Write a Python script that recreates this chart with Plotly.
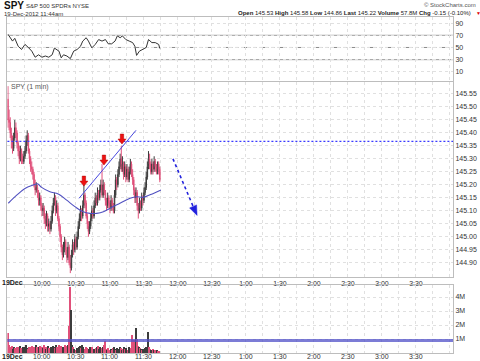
import plotly.graph_objects as go

# ---------------- data (minutes after 9:30, 19-Dec-2012) ----------------
opens = [145.53,145.45,145.44,145.40,145.37,145.34,145.38,145.42,145.40,145.36,
         145.33,145.30,145.33,145.30,145.29,145.31,145.33,145.37,145.39,145.33,
         145.30,145.27,145.26,145.24,145.20,145.18,145.19,145.17,145.14,145.15,
         145.12,145.10,145.11,145.07,145.05,145.08,145.04,145.05,145.03,145.06,
         145.10,145.13,145.15,145.10,145.12,145.07,145.04,145.00,144.96,144.93,
         144.96,144.98,144.95,144.92,144.96,144.90,144.88,144.93,144.97,144.95,
         144.99,144.96,145.00,145.04,145.07,145.10,145.08,145.12,145.16,145.13,
         145.08,145.05,145.02,145.04,145.07,145.10,145.08,145.12,145.15,145.13,
         145.17,145.15,145.18,145.20,145.16,145.20,145.17,145.14,145.12,145.15,
         145.13,145.11,145.14,145.12,145.10,145.16,145.22,145.20,145.24,145.27,
         145.30,145.26,145.28,145.24,145.27,145.23,145.26,145.22,145.25,145.28,
         145.24,145.22,145.18,145.15,145.17,145.12,145.10,145.13,145.11,145.15,
         145.14,145.17,145.19,145.23,145.27,145.30,145.28,145.25,145.28,145.26,
         145.29,145.27,145.25,145.28,145.26]
closes = [145.45,145.44,145.40,145.37,145.34,145.38,145.42,145.40,145.36,145.33,
          145.30,145.33,145.30,145.29,145.31,145.33,145.37,145.39,145.33,145.30,
          145.27,145.26,145.24,145.20,145.18,145.19,145.17,145.14,145.15,145.12,
          145.10,145.11,145.07,145.05,145.08,145.04,145.05,145.03,145.06,145.10,
          145.13,145.15,145.10,145.12,145.07,145.04,145.00,144.96,144.93,144.96,
          144.98,144.95,144.92,144.96,144.90,144.88,144.93,144.97,144.95,144.99,
          144.96,145.00,145.04,145.07,145.10,145.08,145.12,145.16,145.13,145.08,
          145.05,145.02,145.04,145.07,145.10,145.08,145.12,145.15,145.13,145.17,
          145.15,145.18,145.20,145.16,145.20,145.17,145.14,145.12,145.15,145.13,
          145.11,145.14,145.12,145.10,145.16,145.22,145.20,145.24,145.27,145.30,
          145.26,145.28,145.24,145.27,145.23,145.26,145.22,145.25,145.28,145.24,
          145.22,145.18,145.15,145.17,145.12,145.10,145.13,145.11,145.15,145.14,
          145.17,145.19,145.23,145.27,145.30,145.28,145.25,145.28,145.26,145.29,
          145.27,145.25,145.28,145.26,145.22]
highs = [145.58,145.49,145.46,145.42,145.39,145.40,145.45,145.44,145.41,145.37,
         145.35,145.35,145.34,145.32,145.33,145.35,145.39,145.41,145.40,145.34,
         145.31,145.29,145.27,145.25,145.22,145.21,145.20,145.18,145.17,145.16,
         145.13,145.13,145.12,145.09,145.10,145.09,145.07,145.06,145.08,145.12,
         145.15,145.17,145.16,145.14,145.13,145.08,145.05,145.01,144.97,144.98,
         145.00,144.99,144.96,144.98,144.97,144.93,144.95,144.99,144.98,145.01,
         145.00,145.02,145.06,145.09,145.12,145.11,145.14,145.20,145.17,145.14,
         145.09,145.06,145.06,145.09,145.12,145.11,145.14,145.17,145.16,145.19,
         145.18,145.20,145.22,145.28,145.22,145.21,145.18,145.15,145.17,145.16,
         145.14,145.16,145.15,145.13,145.18,145.24,145.23,145.26,145.29,145.32,
         145.35,145.31,145.29,145.29,145.28,145.28,145.27,145.27,145.30,145.29,
         145.26,145.23,145.19,145.19,145.18,145.13,145.15,145.14,145.17,145.16,
         145.19,145.21,145.25,145.29,145.33,145.32,145.29,145.30,145.29,145.31,
         145.30,145.28,145.29,145.29,145.27]
lows = [145.42,145.41,145.38,145.34,145.32,145.33,145.37,145.38,145.34,145.31,
        145.28,145.29,145.28,145.28,145.28,145.30,145.32,145.35,145.32,145.28,
        145.25,145.24,145.22,145.19,145.16,145.17,145.15,145.12,145.12,145.10,
        145.08,145.08,145.05,145.03,145.04,145.02,145.02,145.01,145.02,145.05,
        145.09,145.12,145.08,145.09,145.06,145.02,144.98,144.94,144.91,144.92,
        144.94,144.93,144.90,144.91,144.89,144.86,144.87,144.92,144.93,144.94,
        144.95,144.95,144.99,145.03,145.06,145.06,145.07,145.11,145.11,145.07,
        145.03,145.00,145.01,145.03,145.06,145.07,145.07,145.11,145.12,145.12,
        145.14,145.14,145.17,145.15,145.15,145.16,145.12,145.10,145.11,145.11,
        145.09,145.10,145.10,145.09,145.09,145.15,145.18,145.19,145.23,145.26,
        145.25,145.25,145.22,145.23,145.21,145.22,145.21,145.21,145.24,145.23,
        145.20,145.16,145.13,145.13,145.10,145.07,145.09,145.10,145.10,145.12,
        145.13,145.16,145.18,145.22,145.26,145.26,145.24,145.24,145.24,145.25,
        145.25,145.24,145.24,145.24,145.21]
volumes_m = [1.45,0.55,0.45,0.35,0.50,0.30,0.40,0.35,0.45,0.30,
             0.40,0.50,0.35,0.30,0.45,0.40,0.55,0.35,0.30,0.40,
             0.45,0.30,0.50,0.40,0.35,0.60,0.45,0.30,0.40,0.50,
             0.45,0.35,0.55,0.40,0.30,0.45,0.50,0.35,0.40,0.30,
             0.50,0.45,0.35,0.55,0.40,0.60,0.45,0.50,0.35,0.45,
             0.40,0.55,0.50,0.60,1.90,4.70,3.10,0.60,0.40,0.30,
             0.25,0.35,0.30,0.45,0.50,0.35,0.55,0.40,0.30,0.45,
             0.35,0.25,0.30,0.40,0.35,0.45,0.30,0.25,0.35,0.40,
             0.50,0.30,0.45,0.35,0.40,0.55,0.85,0.30,0.25,0.35,
             0.20,0.30,0.25,0.35,0.40,0.30,0.25,0.35,0.30,0.40,
             0.35,0.25,0.30,0.45,0.30,0.35,0.25,0.40,0.30,0.35,
             1.30,0.60,0.90,1.80,1.00,0.50,0.40,0.35,0.30,0.25,
             0.30,0.35,0.40,0.30,1.50,0.40,0.30,0.25,0.30,0.20,
             0.20,0.15,0.20,0.15,0.12]
ma_minutes = [0.3,7.7,15,22.3,26,29.7,37,44.4,51.8,59.1,66.4,72.4,78.3,84.2,90,98.8,107.7,113.6,119.4,128.3,135]
ma_values = [145.129,145.160,145.186,145.199,145.204,145.190,145.173,145.165,145.141,145.116,
             145.096,145.090,145.090,145.096,145.110,145.129,145.148,145.154,145.152,145.167,145.180]
rsi_minutes = [0,4,6,9,12,15,18,21,24,27,30,33,36,39,41,43,45,47,49,52,55,58,61,64,66,69,71,74,77,
               80,83,86,88.5,91.5,94.5,96.5,99,101,104,107,110,112,113.5,116,119,122,124,127,130,133,134]
rsi_values = [71.7,60.5,65,52,46.7,55,50,44,34,38,34,36,34,38,49,46.7,44,33,38,36,31.7,44,46.7,52,60.5,
              66,60.5,49.4,55,63,60.5,63,56,56,60.5,69,66,69,63,60.5,58,52,37,44,47,50,63,58,58,55,48.3]
resistance_level = 145.367
trend_start = (62.7, 145.148)
trend_end = (113.0, 145.41)
arrow_minutes = [67.0, 84.7, 100.6]
arrow_prices = [145.195, 145.276, 145.357]
forecast_start = (145.6, 145.30)
forecast_end = (166.0, 145.09)
avg_volume_m = 0.9

tick_minutes = list(range(0, 391, 15))
label_map = {30: "10:00", 60: "10:30", 90: "11:00", 120: "11:30", 150: "12:00",
             180: "12:30", 210: "1:00", 240: "1:30", 270: "2:00", 300: "2:30", 330: "3:00", 360: "3:30"}
date_label = "19Dec"
price_ticks = [round(144.90 + 0.05 * i, 2) for i in range(14)]
rsi_ticks = [10, 30, 50, 70, 90]
vol_ticks = [1, 2, 3, 4]

# ---------------- figure ----------------
minutes = list(range(len(closes)))
W, H = 480, 361
UP = "#3c3c3c"
DOWN = "#e0507a"
FONT = "Liberation Sans, Arial, sans-serif"

fig = go.Figure()

fig.add_trace(go.Scatter(x=rsi_minutes, y=rsi_values, mode="lines",
                         line=dict(color="#333333", width=1), xaxis="x", yaxis="y",
                         showlegend=False, hoverinfo="skip"))

fig.add_trace(go.Candlestick(x=minutes, open=opens, high=highs, low=lows, close=closes,
                             increasing=dict(line=dict(color=UP, width=1), fillcolor="#7a7a7a"),
                             decreasing=dict(line=dict(color=DOWN, width=1), fillcolor=DOWN),
                             whiskerwidth=0, xaxis="x2", yaxis="y2", showlegend=False,
                             hoverinfo="skip"))

fig.add_trace(go.Scatter(x=ma_minutes, y=ma_values, mode="lines", line=dict(color="#5050c0", width=1.1),
                         xaxis="x2", yaxis="y2", showlegend=False, hoverinfo="skip", line_shape="spline"))

vol_colors = [UP if c >= o else DOWN for o, c in zip(opens, closes)]
fig.add_trace(go.Bar(x=minutes, y=volumes_m, marker=dict(color=vol_colors, line=dict(width=0)),
                     width=1.0, xaxis="x3", yaxis="y3", showlegend=False, hoverinfo="skip"))

def px_x(p):
    return p / W

def px_y(p):
    return 1 - p / H

x_dom = [px_x(7.4), px_x(453)]
grid = dict(showgrid=True, gridcolor="#e0e0e0", griddash="dot", gridwidth=1)
frame = dict(showline=True, linecolor="#bdbdbd", linewidth=1, mirror=True, zeroline=False)
tickfont = dict(family=FONT, size=7, color="#333333")

def xaxis(domain_anchor, show_labels):
    d = dict(domain=x_dom, range=[-0.5, 392.7], anchor=domain_anchor, tickmode="array",
             tickvals=tick_minutes, ticktext=[label_map.get(t, "") for t in tick_minutes],
             showticklabels=show_labels, ticks="", tickfont=tickfont, automargin=False,
             **grid, **frame)
    return d

fig.update_layout(
    width=W, height=H, margin=dict(l=0, r=0, t=0, b=0, autoexpand=False),
    paper_bgcolor="white", plot_bgcolor="white", bargap=0,
    xaxis=xaxis("y", False),
    xaxis2=dict(xaxis("y2", True), rangeslider=dict(visible=False)),
    xaxis3=xaxis("y3", False),
    yaxis=dict(domain=[px_y(81), px_y(17)], range=[-5, 100], side="right", tickmode="array",
               tickvals=rsi_ticks, ticktext=[str(v) for v in rsi_ticks], ticks="",
               tickfont=tickfont, anchor="x", **grid, **frame),
    yaxis2=dict(domain=[px_y(277), px_y(82)], range=[144.845, 145.596], side="right", tickmode="array",
                tickvals=price_ticks, ticktext=["%.2f" % v for v in price_ticks], ticks="",
                tickfont=tickfont, anchor="x2", **grid, **frame),
    yaxis3=dict(domain=[px_y(353), px_y(285)], range=[0, 4.86], side="right", tickmode="array",
                tickvals=vol_ticks, ticktext=["%dM" % v for v in vol_ticks], ticks="",
                tickfont=tickfont, anchor="x3", **grid, **frame),
)

shapes = []
# RSI reference lines
for lvl, dash, col in [(70, "solid", "#9a9a9a"), (30, "solid", "#9a9a9a"), (50, "dashdot", "#8a8a8a")]:
    shapes.append(dict(type="line", xref="x domain", yref="y", x0=0, x1=1, y0=lvl, y1=lvl,
                       line=dict(color=col, width=1, dash=dash), layer="below"))
# resistance dotted line
shapes.append(dict(type="line", xref="x2 domain", yref="y2", x0=0, x1=1, y0=resistance_level,
                   y1=resistance_level, line=dict(color="#3a3aff", width=1.2, dash="2px,2px")))
# trend line
shapes.append(dict(type="line", xref="x2", yref="y2", x0=trend_start[0], y0=trend_start[1],
                   x1=trend_end[0], y1=trend_end[1], line=dict(color="#4848e0", width=1)))
# red arrows
for m, p in zip(arrow_minutes, arrow_prices):
    shapes.append(dict(type="path", xref="x2", yref="y2", xsizemode="pixel", ysizemode="pixel",
                       xanchor=m, yanchor=p,
                       path="M 0 0 L -4 5 L -1.7 5 L -1.7 10 L 1.7 10 L 1.7 5 L 4 5 Z",
                       fillcolor="#ee1111", line=dict(color="#b00000", width=0.5)))
# forecast dotted arrow
shapes.append(dict(type="line", xref="x2", yref="y2", x0=forecast_start[0], y0=forecast_start[1],
                   x1=forecast_end[0], y1=forecast_end[1], line=dict(color="#2222dd", width=1.6, dash="dot")))
shapes.append(dict(type="path", xref="x2", yref="y2", xsizemode="pixel", ysizemode="pixel",
                   xanchor=forecast_end[0], yanchor=forecast_end[1],
                   path="M 1 -2 L 0.5 8.5 L -6.5 5.5 Z", fillcolor="#2222dd", line=dict(color="#2222dd", width=0.5)))
# average volume line
shapes.append(dict(type="line", xref="x3 domain", yref="y3", x0=0, x1=1, y0=avg_volume_m, y1=avg_volume_m,
                   line=dict(color="rgba(80,80,200,0.75)", width=3)))
fig.update_layout(shapes=shapes)

ann = []
def text(x, y, s, size=7, color="#333333", anchor="left"):
    ann.append(dict(xref="paper", yref="paper", x=px_x(x), y=px_y(y), text=s, showarrow=False,
                    xanchor=anchor, yanchor="middle", font=dict(family=FONT, size=size, color=color)))

text(2, 6, "<b>SPY</b>", size=10, color="#111111")
text(24, 6, "S&P 500 SPDRs NYSE", size=6, color="#333333")
text(2, 14, "19-Dec-2012 11:44am", size=6, color="#333333")
text(478, 5, "© StockCharts.com", size=6, color="#555555", anchor="right")
text(473, 13, "<b>Open</b> 145.53 <b>High</b> 145.58 <b>Low</b> 144.86 <b>Last</b> 145.22 "
              "<b>Volume</b> 57.8M <b>Chg</b> -0.15 (-0.10%)", size=6, color="#222222", anchor="right")
text(474, 13, "▼", size=5, color="#dd0000")
text(9, 87, "SPY (1 min)", size=7, color="#555555")
text(0, 282, "<b>" + date_label + "</b>", size=7, color="#222222")
text(0, 356, "<b>" + date_label + "</b>", size=7, color="#222222")
# time labels under the volume panel, placed on the shared minute scale
for t, lab in label_map.items():
    ann.append(dict(xref="x3", yref="paper", x=t, y=px_y(356.5), text=lab, showarrow=False,
                    xanchor="center", yanchor="middle", font=dict(family=FONT, size=7, color="#333333")))
fig.update_layout(annotations=ann)

fig.write_html("out.html", config={"displayModeBar": False})
